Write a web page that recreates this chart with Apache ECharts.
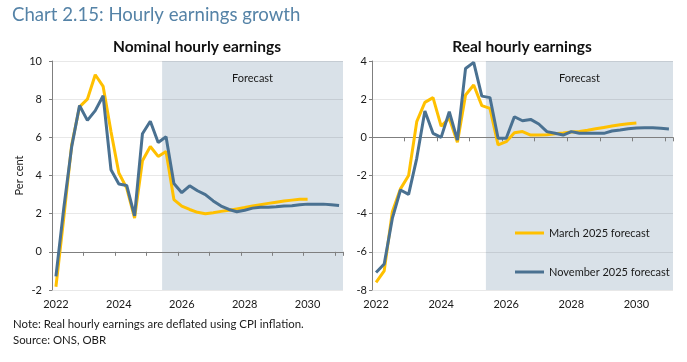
<!DOCTYPE html>
<html><head><meta charset="utf-8">
<script src="https://cdn.jsdelivr.net/npm/echarts@6/dist/echarts.min.js"></script>
<style>html,body{margin:0;padding:0;background:#fff}#c{width:687px;height:362px}</style>
</head><body><div id="c"></div>
<script>
// Quarterly categories 2022Q1 .. 2031Q1
const categories = ['2022Q1','2022Q2','2022Q3','2022Q4','2023Q1','2023Q2','2023Q3','2023Q4',
  '2024Q1','2024Q2','2024Q3','2024Q4','2025Q1','2025Q2','2025Q3','2025Q4',
  '2026Q1','2026Q2','2026Q3','2026Q4','2027Q1','2027Q2','2027Q3','2027Q4',
  '2028Q1','2028Q2','2028Q3','2028Q4','2029Q1','2029Q2','2029Q3','2029Q4',
  '2030Q1','2030Q2','2030Q3','2030Q4','2031Q1'];
const forecastStart = '2025Q3';
const seriesNames = ['March 2025 forecast', 'November 2025 forecast'];

const nominalMarch = [-1.83, 1.8, 5.6, 7.6, 8.0, 9.28, 8.67, 6.3, 4.13, 3.34, 1.77, 4.77, 5.52, 5.0, 5.26,
  2.74, 2.4, 2.22, 2.07, 2.0, 2.05, 2.12, 2.18, 2.25, 2.32, 2.4, 2.47, 2.54, 2.6, 2.66, 2.71, 2.76, 2.76];
const nominalNov = [-1.29, 2.3, 5.5, 7.67, 6.89, 7.4, 8.18, 4.3, 3.55, 3.48, 1.89, 6.19, 6.84, 5.73, 6.03,
  3.58, 3.1, 3.46, 3.2, 3.0, 2.67, 2.4, 2.22, 2.1, 2.18, 2.29, 2.34, 2.34, 2.36, 2.4, 2.42, 2.47, 2.5, 2.5, 2.5, 2.47, 2.43];
const realMarch = [-7.6, -7.0, -3.9, -2.7, -2.0, 0.82, 1.83, 2.08, 0.59, 1.0, -0.26, 2.22, 2.74, 1.66, 1.52,
  -0.4, -0.23, 0.24, 0.3, 0.12, 0.12, 0.14, 0.19, 0.23, 0.28, 0.31, 0.37, 0.45, 0.52, 0.59, 0.66, 0.71, 0.75];
const realNov = [-7.08, -6.64, -4.25, -2.76, -2.99, -1.1, 1.38, 0.21, 0.0, 1.34, -0.15, 3.61, 3.93, 2.16, 2.08,
  -0.05, -0.05, 1.08, 0.87, 0.94, 0.7, 0.3, 0.21, 0.12, 0.3, 0.21, 0.21, 0.21, 0.21, 0.33, 0.38, 0.45, 0.49, 0.5, 0.5, 0.47, 0.44];

const yTicksNominal = {min: -2, max: 10, interval: 2};
const yTicksReal = {min: -8, max: 4, interval: 2};
const panelTitles = ['Nominal hourly earnings', 'Real hourly earnings'];

const FONT = 'Lato';
const YELLOW = '#FFC000';
const BLUE = '#4A7191';
const AXIS = '#7f7f7f';
const SHADE = '#D9E1E8';
const TXT = '#1a1a1a';

const grids = [
  {left: 52, top: 61, width: 291, height: 229},
  {left: 372, top: 61, width: 301, height: 229}
];
const nCat = categories.length;
const fcIdx = categories.indexOf(forecastStart);

const xAxis = [];
const yAxis = [];
const series = [];
[0, 1].forEach(g => {
  // axis on the zero line with ticks
  xAxis.push({type: 'category', gridIndex: g, data: categories, boundaryGap: true,
    axisLine: {show: true, onZero: true, lineStyle: {color: AXIS, width: 1}},
    axisTick: {show: true, interval: 3, length: 4, lineStyle: {color: AXIS}},
    axisLabel: {show: false}, splitLine: {show: false}});
  // label axis at the bottom
  xAxis.push({type: 'category', gridIndex: g, data: categories, boundaryGap: true, position: 'bottom',
    axisLine: {show: false, onZero: false}, axisTick: {show: false}, splitLine: {show: false},
    axisLabel: {show: true, interval: 7, margin: 9, fontFamily: FONT, fontSize: 11, color: TXT,
      formatter: v => v.slice(0, 4)}});
});
[0, 1].forEach(g => {
  // hidden value axis in band units for the forecast shading
  xAxis.push({type: 'value', gridIndex: g, min: 0, max: nCat, show: false});
});
[yTicksNominal, yTicksReal].forEach((t, g) => {
  yAxis.push({type: 'value', gridIndex: g, min: t.min, max: t.max, interval: t.interval,
    name: g === 0 ? 'Per cent' : '', nameLocation: 'middle', nameGap: 26, nameRotate: 90,
    nameTextStyle: {fontFamily: FONT, fontSize: 11, color: TXT},
    axisLine: {show: true, lineStyle: {color: AXIS}},
    axisTick: {show: true, length: 3, lineStyle: {color: AXIS}},
    axisLabel: {margin: g === 0 ? 10 : 5, fontFamily: FONT, fontSize: 11, color: TXT},
    splitLine: {show: true, lineStyle: {color: 'rgba(0,0,0,0.09)', width: 1}}});
});

[0, 1].forEach(g => {
  series.push({type: 'line', xAxisIndex: 4 + g, yAxisIndex: g, data: [], silent: true,
    markArea: {silent: true, z: -1, itemStyle: {color: SHADE},
      label: {show: true, position: 'insideTop', distance: 12, fontFamily: FONT, fontSize: 11, color: TXT},
      data: [[{name: 'Forecast', xAxis: fcIdx}, {xAxis: nCat}]]}});
});
const dataSets = [[nominalMarch, nominalNov], [realMarch, realNov]];
[0, 1].forEach(g => {
  dataSets[g].forEach((d, k) => {
    series.push({type: 'line', name: seriesNames[k], xAxisIndex: 2 * g, yAxisIndex: g, data: d,
      symbol: 'none', smooth: false, color: k === 0 ? YELLOW : BLUE,
      lineStyle: {width: 3, color: k === 0 ? YELLOW : BLUE}, z: 3 + k});
  });
});

const chart = echarts.init(document.getElementById('c'));
chart.setOption({
  animation: false,
  backgroundColor: '#fff',
  grid: grids,
  xAxis, yAxis, series,
  legend: {data: seriesNames, orient: 'vertical', left: 515, top: 227.5, icon: 'rect', itemWidth: 29, itemHeight: 3,
    itemGap: 28, padding: 0, textStyle: {fontFamily: FONT, fontSize: 11, color: TXT}},
  graphic: [
    {type: 'text', x: 12, y: 5, style: {text: 'Chart 2.15: Hourly earnings growth', fill: '#5583A7',
      font: '18.6px ' + FONT, align: 'left', verticalAlign: 'top'}},
    {type: 'text', x: 197, y: 47, style: {text: panelTitles[0], fill: '#111',
      font: 'bold 15.5px ' + FONT, align: 'center', verticalAlign: 'middle'}},
    {type: 'text', x: 522, y: 47, style: {text: panelTitles[1], fill: '#111',
      font: 'bold 15.5px ' + FONT, align: 'center', verticalAlign: 'middle'}},
    {type: 'text', x: 13, y: 324, style: {text: 'Note: Real hourly earnings are deflated using CPI inflation.', fill: TXT,
      font: '11.4px ' + FONT, align: 'left', verticalAlign: 'middle'}},
    {type: 'text', x: 13, y: 340, style: {text: 'Source: ONS, OBR', fill: TXT,
      font: '11.4px ' + FONT, align: 'left', verticalAlign: 'middle'}}
  ]
});
</script></body></html>
